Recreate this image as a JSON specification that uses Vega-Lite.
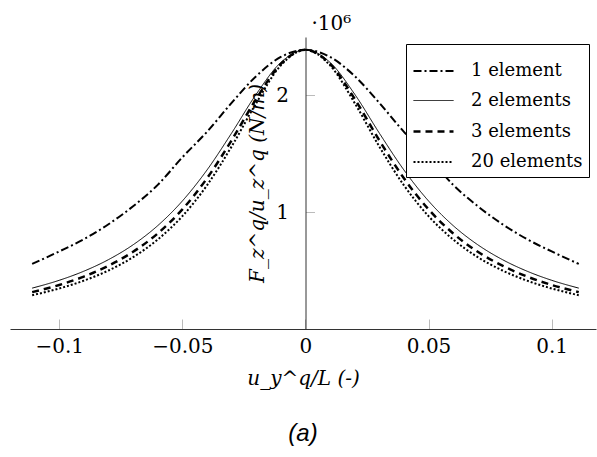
{
  "$schema": "https://vega.github.io/schema/vega-lite/v6.json",
  "width": 586,
  "height": 292,
  "autosize": {"type": "none"},
  "padding": {"left": 10, "top": 37, "right": 1, "bottom": 128},
  "background": "white",
  "title": {
    "text": "(a)",
    "orient": "bottom",
    "anchor": "middle",
    "font": "Liberation Sans",
    "fontSize": 24,
    "fontStyle": "italic",
    "fontWeight": "normal",
    "color": "black",
    "offset": 34
  },
  "config": {
    "view": {"stroke": null},
    "axis": {"grid": false}
  },
  "layer": [
    {
      "data": {
        "values": [
          {"x": -0.111, "1 element": 557000, "2 elements": 350000, "3 elements": 316000, "20 elements": 289000},
          {"x": -0.1, "1 element": 664000, "2 elements": 417000, "3 elements": 377000, "20 elements": 347000},
          {"x": -0.09, "1 element": 769000, "2 elements": 495000, "3 elements": 449000, "20 elements": 414000},
          {"x": -0.08, "1 element": 897000, "2 elements": 594000, "3 elements": 542000, "20 elements": 501000},
          {"x": -0.07, "1 element": 1051000, "2 elements": 721000, "3 elements": 661000, "20 elements": 615000},
          {"x": -0.06, "1 element": 1234000, "2 elements": 885000, "3 elements": 818000, "20 elements": 766000},
          {"x": -0.05, "1 element": 1470000, "2 elements": 1096000, "3 elements": 1024000, "20 elements": 966000},
          {"x": -0.04, "1 element": 1688000, "2 elements": 1361000, "3 elements": 1290000, "20 elements": 1230000},
          {"x": -0.03, "1 element": 1936000, "2 elements": 1677000, "3 elements": 1615000, "20 elements": 1562000},
          {"x": -0.02, "1 element": 2165000, "2 elements": 2010000, "3 elements": 1970000, "20 elements": 1934000},
          {"x": -0.01, "1 element": 2329000, "2 elements": 2282000, "3 elements": 2269000, "20 elements": 2257000},
          {"x": 0, "1 element": 2390000, "2 elements": 2390000, "3 elements": 2390000, "20 elements": 2390000},
          {"x": 0.01, "1 element": 2329000, "2 elements": 2282000, "3 elements": 2269000, "20 elements": 2257000},
          {"x": 0.02, "1 element": 2165000, "2 elements": 2010000, "3 elements": 1970000, "20 elements": 1934000},
          {"x": 0.03, "1 element": 1936000, "2 elements": 1677000, "3 elements": 1615000, "20 elements": 1562000},
          {"x": 0.04, "1 element": 1688000, "2 elements": 1361000, "3 elements": 1290000, "20 elements": 1230000},
          {"x": 0.05, "1 element": 1470000, "2 elements": 1096000, "3 elements": 1024000, "20 elements": 966000},
          {"x": 0.06, "1 element": 1234000, "2 elements": 885000, "3 elements": 818000, "20 elements": 766000},
          {"x": 0.07, "1 element": 1051000, "2 elements": 721000, "3 elements": 661000, "20 elements": 615000},
          {"x": 0.08, "1 element": 897000, "2 elements": 594000, "3 elements": 542000, "20 elements": 501000},
          {"x": 0.09, "1 element": 769000, "2 elements": 495000, "3 elements": 449000, "20 elements": 414000},
          {"x": 0.1, "1 element": 664000, "2 elements": 417000, "3 elements": 377000, "20 elements": 347000},
          {"x": 0.111, "1 element": 557000, "2 elements": 350000, "3 elements": 316000, "20 elements": 289000}
        ]
      },
      "transform": [
        {"fold": ["1 element", "2 elements", "3 elements", "20 elements"], "as": ["series", "value"]}
      ],
      "mark": {"type": "line", "interpolate": "monotone", "color": "black"},
      "encoding": {
        "x": {
          "field": "x",
          "type": "quantitative",
          "scale": {"domain": [-0.12, 0.118], "nice": false, "zero": false},
          "axis": {
            "values": [-0.1, -0.05, 0, 0.05, 0.1],
            "format": "~g",
            "tickSize": -10,
            "tickColor": "#bbbbbb",
            "domainColor": "#333333",
            "labelFont": "DejaVu Serif",
            "labelFontSize": 20,
            "labelColor": "black",
            "labelPadding": 17,
            "title": "u_y^q/L (-)",
            "titleFont": "DejaVu Serif",
            "titleFontSize": 20,
            "titleFontStyle": "italic",
            "titleFontWeight": "normal",
            "titleColor": "black",
            "titlePadding": 12
          }
        },
        "y": {
          "field": "value",
          "type": "quantitative",
          "scale": {"domain": [0, 2500000], "nice": false},
          "axis": {
            "orient": "left",
            "offset": -295.5,
            "values": [1000000, 2000000],
            "labelExpr": "datum.value / 1000000",
            "tickSize": -9,
            "tickColor": "#bbbbbb",
            "domainColor": "#333333",
            "labelFont": "DejaVu Serif",
            "labelFontSize": 20,
            "labelColor": "black",
            "labelPadding": 26,
            "title": "F_z^q/u_z^q (N/m)",
            "titleFont": "DejaVu Serif",
            "titleFontSize": 20,
            "titleFontStyle": "italic",
            "titleFontWeight": "normal",
            "titleColor": "black",
            "titlePadding": 8
          }
        },
        "strokeDash": {
          "field": "series",
          "type": "nominal",
          "scale": {
            "domain": ["1 element", "2 elements", "3 elements", "20 elements"],
            "range": [[8, 3, 2, 3], [1, 0], [7, 5], [2, 2]]
          },
          "legend": {
            "title": null,
            "orient": "top-right",
            "offset": 7,
            "fillColor": "white",
            "strokeColor": "black",
            "padding": 6,
            "rowPadding": -2,
            "symbolType": "stroke",
            "symbolSize": 1600,
            "symbolStrokeColor": "black",
            "labelFont": "DejaVu Serif",
            "labelFontSize": 18,
            "labelColor": "black",
            "labelOffset": 16,
            "labelLimit": 300
          }
        },
        "strokeWidth": {
          "field": "series",
          "type": "nominal",
          "scale": {
            "type": "ordinal",
            "domain": ["1 element", "2 elements", "3 elements", "20 elements"],
            "range": [2, 1, 2.5, 2]
          },
          "legend": null
        }
      }
    },
    {
      "data": {"values": [{"x": 0, "y": 2500000, "label": "·10⁶"}]},
      "mark": {
        "type": "text",
        "align": "left",
        "baseline": "alphabetic",
        "dx": 6,
        "dy": -7,
        "font": "DejaVu Serif",
        "fontSize": 20,
        "color": "black",
        "clip": false
      },
      "encoding": {
        "x": {"field": "x", "type": "quantitative"},
        "y": {"field": "y", "type": "quantitative"},
        "text": {"field": "label"}
      }
    }
  ]
}
